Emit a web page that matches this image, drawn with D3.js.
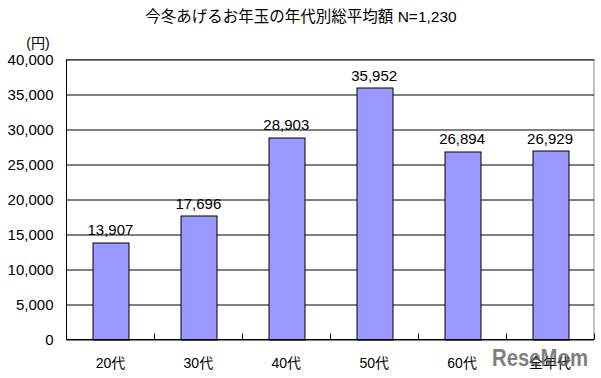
<!DOCTYPE html>
<html><head><meta charset="utf-8">
<script src="https://cdn.jsdelivr.net/npm/d3@7"></script>
<style>
body{margin:0;background:#fff;}
text{font-family:"Liberation Sans",Arial,"Noto Sans CJK JP",sans-serif;fill:#000;}
</style></head>
<body><div id="chart"></div>
<script>
// 今冬あげるお年玉の年代別総平均額
const categories = ["20代", "30代", "40代", "50代", "60代", "全年代"];
const values = [13907, 17696, 28903, 35952, 26894, 26929];
const yTicks = [0, 5000, 10000, 15000, 20000, 25000, 30000, 35000, 40000];
const title = "今冬あげるお年玉の年代別総平均額 N=1,230";

const W = 601, H = 378;
const m = { top: 59.5, right: 7, bottom: 38.5, left: 66.5 };
const iw = W - m.left - m.right, ih = H - m.top - m.bottom;

const svg = d3.select("#chart").append("svg").attr("width", W).attr("height", H);
const g = svg.append("g").attr("transform", `translate(${m.left},${m.top})`);

const x = d3.scaleBand().domain(categories).range([0, iw]).paddingInner(0.59).paddingOuter(0.295);
const x0 = d3.scaleLinear().domain([0, categories.length]).range([0, iw]);
const y = d3.scaleLinear().domain([0, 40000]).range([ih, 0]);

// 枠
g.append("rect").attr("width", iw).attr("height", ih).attr("fill", "none").attr("stroke", "#888");

// グリッド
g.append("g").call(d3.axisLeft(y).tickValues(yTicks).tickSize(-iw).tickFormat(""))
  .call((s) => s.select(".domain").remove())
  .selectAll("line").attr("stroke", "#000");

// y 軸ラベル
g.append("g").selectAll("text").data(yTicks).join("text")
  .attr("x", -13).attr("y", (d) => y(d)).attr("dy", "0.36em")
  .attr("text-anchor", "end").style("font-size", "15px").text(d3.format(","));

// 棒
g.append("g").selectAll("rect").data(values).join("rect")
  .attr("x", (d, i) => Math.round(x(categories[i])) + 0.5)
  .attr("y", (d) => Math.round(y(d)) + 0.5)
  .attr("width", Math.round(x.bandwidth()))
  .attr("height", (d) => ih - Math.round(y(d)))
  .attr("fill", "#9999ff").attr("stroke", "#000").attr("stroke-width", 1);

// 値ラベル
g.append("g").selectAll("text").data(values).join("text")
  .attr("x", (d, i) => x(categories[i]) + x.bandwidth() / 2)
  .attr("y", (d) => y(d) - 7)
  .attr("text-anchor", "middle").style("font-size", "15px").text(d3.format(","));

// 軸線
g.append("line").attr("x1", 0).attr("x2", 0).attr("y1", 0).attr("y2", ih).attr("stroke", "#000");
g.append("line").attr("x1", 0).attr("x2", iw).attr("y1", ih).attr("y2", ih).attr("stroke", "#000");
g.append("g").selectAll("line").data(d3.range(1, categories.length + 1)).join("line")
  .attr("x1", (d) => Math.round(x0(d))).attr("x2", (d) => Math.round(x0(d)))
  .attr("y1", ih).attr("y2", ih - 6).attr("stroke", "#000");

// カテゴリラベル
g.append("g").selectAll("text").data(categories).join("text")
  .attr("x", (d) => x(d) + x.bandwidth() / 2).attr("y", ih + 23)
  .attr("dy", "0.36em").attr("text-anchor", "middle").style("font-size", "14px").text((d) => d);

// タイトル・単位
svg.append("text").attr("x", 301).attr("y", 22).attr("text-anchor", "middle")
  .style("font-size", "15.5px").text(title);
svg.append("text").attr("x", 38).attr("y", 48).attr("text-anchor", "middle")
  .style("font-size", "14px").text("(円)");

// 透かし
svg.append("text").attr("x", 492).attr("y", 366).attr("textLength", 96).attr("lengthAdjust", "spacingAndGlyphs")
  .style("font-size", "24px").style("font-weight", "bold")
  .style("fill", "#555").style("opacity", 0.75).text("ReseMom");
</script></body></html>
